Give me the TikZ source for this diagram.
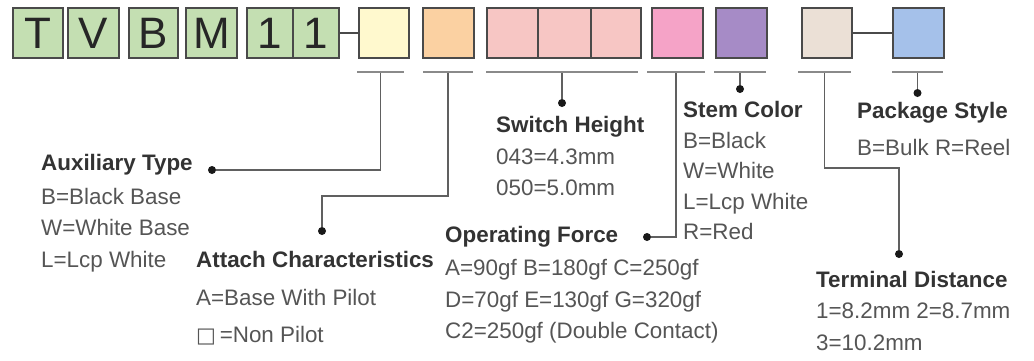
\documentclass[tikz,border=0pt]{standalone}
\usepackage{fontspec}
\setmainfont{Liberation Sans}
\newfontfamily\dejavu{DejaVu Sans}
\definecolor{boxline}{HTML}{4A4A4A}
\definecolor{cgreen}{HTML}{C4DFB2}
\definecolor{cyellow}{HTML}{FFF9CE}
\definecolor{corange}{HTML}{FBD1A2}
\definecolor{cpink}{HTML}{F7C6C4}
\definecolor{cmagenta}{HTML}{F5A3C7}
\definecolor{cpurple}{HTML}{A68BC6}
\definecolor{cbeige}{HTML}{EBE0D6}
\definecolor{cblue}{HTML}{A5C1EA}
\definecolor{ulgray}{HTML}{8A8A8A}
\definecolor{conngray}{HTML}{606060}
\definecolor{headtxt}{HTML}{333333}
\definecolor{bodytxt}{HTML}{555555}
\tikzset{
  cbox/.style={draw=boxline, line width=1.8pt, anchor=north west, minimum height=50pt,
    inner sep=0pt, font=\fontsize{44}{44}\selectfont, text=black!85},
  uline/.style={fill=ulgray, draw=none, minimum height=2.4pt, inner sep=0pt},
  dot/.style={circle, fill=black!90, minimum size=8pt, inner sep=0pt},
  conn/.style={draw=conngray, line width=1.6pt},
  link/.style={draw=boxline, line width=1.8pt},
  head/.style={anchor=base west, inner sep=0pt, text=headtxt, font=\fontsize{22.4}{24}\selectfont\bfseries},
  body/.style={anchor=base west, inner sep=0pt, text=bodytxt, font=\fontsize{22.4}{24}\selectfont},
}
\begin{document}
\begin{tikzpicture}[x=1pt,y=-1pt]
\useasboundingbox (0,0) rectangle (1034,360);
\fill[white] (0,0) rectangle (1034,360);
% code boxes
\node[cbox, fill=cgreen, minimum width=50pt] (bT) at (12,7) {T};
\node[cbox, fill=cgreen, minimum width=51pt] (bV) at (67,7) {V};
\node[cbox, fill=cgreen, minimum width=49pt] (bB) at (128,7) {B};
\node[cbox, fill=cgreen, minimum width=51pt] (bM) at (185,7) {M};
\node[cbox, fill=cgreen, minimum width=46pt] (b1a) at (246,7) {1};
\node[cbox, fill=cgreen, minimum width=46pt] (b1b) at (292,7) {1};
\node[cbox, fill=cyellow, minimum width=50pt] (bY) at (358,7) {};
\node[cbox, fill=corange, minimum width=51pt] (bO) at (422,7) {};
\node[cbox, fill=cpink, minimum width=51pt] (bP1) at (486,7) {};
\node[cbox, fill=cpink, minimum width=53pt] (bP2) at (537,7) {};
\node[cbox, fill=cpink, minimum width=50pt] (bP3) at (590,7) {};
\node[cbox, fill=cmagenta, minimum width=51pt] (bMg) at (651,7) {};
\node[cbox, fill=cpurple, minimum width=51pt] (bPu) at (715,7) {};
\node[cbox, fill=cbeige, minimum width=50pt] (bBe) at (801,7) {};
\node[cbox, fill=cblue, minimum width=51pt] (bBl) at (892,7) {};
\draw[link] (b1b.east) -- (bY.west);
\draw[link] (bBe.east) -- (bBl.west);
% underlines
\node[uline, minimum width=47pt] (u1) at (380.5,72) {};
\node[uline, minimum width=50pt] (u2) at (448,72) {};
\node[uline, minimum width=152pt] (u3) at (562,72) {};
\node[uline, minimum width=58pt] (u4) at (676,72) {};
\node[uline, minimum width=52pt] (u5) at (740,72) {};
\node[uline, minimum width=53pt] (u6) at (824.5,72) {};
\node[uline, minimum width=51pt] (u7) at (917.5,72) {};
% dots
\node[dot] (d1) at (212,170) {};
\node[dot] (d2) at (322,231) {};
\node[dot] (d3) at (562,103) {};
\node[dot] (d4) at (647,237) {};
\node[dot] (d5) at (740,89) {};
\node[dot] (d6) at (899,254) {};
\node[dot] (d7) at (917.5,93) {};
\coordinate (k2) at (322,196);
\coordinate (k6) at (899,168);
% connectors
\draw[conn] (u1.south) |- (d1);
\draw[conn] (u2.south) |- (k2) -- (d2);
\draw[conn] (u3.south) -- (d3);
\draw[conn] (u4.south) |- (d4);
\draw[conn] (u5.south) -- (d5);
\draw[conn] (u6.south) |- (k6) -- (d6);
\draw[conn] (u7.south) -- (d7);
% texts
\node[head] (tAux) at (41,170) {Auxiliary Type};
\node[body] (tAux1) at (41,204) {B=Black Base};
\node[body] (tAux2) at (41,235) {W=White Base};
\node[body] (tAux3) at (41,267) {L=Lcp White};
\node[head] (tAtt) at (196,267) {Attach Characteristics};
\node[body] (tAtt1) at (196,305) {A=Base With Pilot};
\node[body] (tAtt2) at (196,342) {{\dejavu\fontsize{21}{24}\selectfont □}\,=Non Pilot};
\node[head] (tSw) at (496,132) {Switch Height};
\node[body] (tSw1) at (496,164) {043=4.3mm};
\node[body] (tSw2) at (496,195) {050=5.0mm};
\node[head] (tOp) at (445,242) {Operating Force};
\node[body] (tOp1) at (445,275) {A=90gf B=180gf C=250gf};
\node[body] (tOp2) at (445,307) {D=70gf E=130gf G=320gf};
\node[body] (tOp3) at (445,338) {C2=250gf (Double Contact)};
\node[head] (tSt) at (683,117) {Stem Color};
\node[body] (tSt1) at (683,148) {B=Black};
\node[body] (tSt2) at (683,178) {W=White};
\node[body] (tSt3) at (683,209) {L=Lcp White};
\node[body] (tSt4) at (683,239) {R=Red};
\node[head] (tPk) at (857,118) {Package Style};
\node[body] (tPk1) at (857,155) {B=Bulk R=Reel};
\node[head] (tTd) at (816,287) {Terminal Distance};
\node[body] (tTd1) at (816,318) {1=8.2mm 2=8.7mm};
\node[body] (tTd2) at (816,350) {3=10.2mm};
\end{tikzpicture}
\end{document}
